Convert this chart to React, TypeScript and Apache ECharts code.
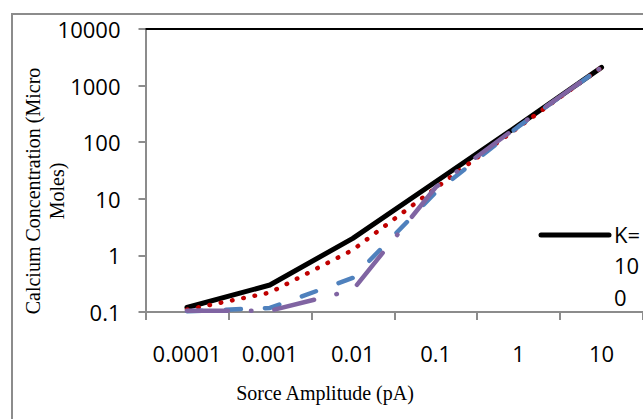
import React, { useEffect, useRef } from "react";
import * as echarts from "echarts";

const categories = ["0.0001", "0.001", "0.01", "0.1", "1", "10"];
const seriesNames = ["K=100", "K=10", "K=1", "K=0.1"];
const k100Values = [0.12, 0.3, 2.0, 20, 200, 2100];
const k10Values = [0.11, 0.22, 1.25, 15.5, 185, 2100];
const k1Values = [0.103, 0.118, 0.4, 13, 190, 2100];
const k01Values = [0.105, 0.105, 0.245, 16, 195, 2100];
const yTicks = [0.1, 1, 10, 100, 1000, 10000];
const xTitle = "Sorce Amplitude (pA)";
const yTitle = "Calcium Concentration (Micro\nMoles)";
const legendText = "K=\n10\n0";

export default function App() {
  const ref = useRef<HTMLDivElement>(null);
  useEffect(() => {
    document.body.style.margin = "0";
    const chart = echarts.init(ref.current!, null, { renderer: "svg" });
    const tickFont = { fontFamily: "Open Sans", fontSize: 22, color: "#000" };
    const gray = "#8c8c8c";
    const mk = (name: string, data: number[], color: string, width: number, type: any) => ({
      name,
      type: "line",
      data,
      xAxisIndex: 0,
      yAxisIndex: 0,
      showSymbol: false,
      symbol: "none",
      clip: false,
      lineStyle: { color, width, type, cap: "round", join: "round" },
    });
    chart.setOption({
      animation: false,
      grid: { left: 145.5, top: 29, width: 506.4, height: 283 },
      xAxis: [
        {
          type: "category",
          data: categories,
          position: "bottom",
          boundaryGap: true,
          axisLine: { show: true, onZero: false, lineStyle: { color: gray, width: 2 } },
          axisTick: { show: true, length: 8, interval: 0, lineStyle: { color: gray, width: 2 } },
          axisLabel: { ...tickFont, margin: 30, interval: 0 },
          splitLine: { show: false },
        },
        {
          type: "category",
          data: categories,
          position: "top",
          boundaryGap: true,
          axisLine: { show: true, onZero: false, lineStyle: { color: "#000", width: 2 } },
          axisTick: { show: false },
          axisLabel: { show: false },
          splitLine: { show: false },
        },
      ],
      yAxis: {
        type: "log",
        logBase: 10,
        min: yTicks[0],
        max: yTicks[yTicks.length - 1],
        axisLine: { show: true, lineStyle: { color: gray, width: 2 } },
        axisTick: { show: true, length: 7, lineStyle: { color: gray, width: 2 } },
        axisLabel: {
          ...tickFont,
          margin: 25,
          formatter: (v: number) => String(Number(v.toPrecision(6))),
        },
        splitLine: { show: false },
      },
      series: [
        mk(seriesNames[0], k100Values, "#000000", 5, "solid"),
        mk(seriesNames[1], k10Values, "#C00000", 4.5, [0.5, 11]),
        mk(seriesNames[2], k1Values, "#4F81BD", 4.5, [15, 24]),
        mk(seriesNames[3], k01Values, "#8064A2", 4.5, [41, 23, 0.5, 23]),
      ],
      graphic: [
        {
          type: "rect",
          z: -10,
          shape: { x: 12, y: 14, width: 800, height: 600 },
          style: { fill: "none", stroke: gray, lineWidth: 2 },
          silent: true,
        },
        {
          type: "text",
          x: 325,
          y: 393,
          style: {
            text: xTitle,
            font: '20px "Liberation Serif"',
            fill: "#000",
            textAlign: "center",
            textVerticalAlign: "middle",
          },
        },
        {
          type: "text",
          x: 45,
          y: 191,
          rotation: Math.PI / 2,
          style: {
            text: yTitle,
            font: '20px "Liberation Serif"',
            fill: "#000",
            textAlign: "center",
            textVerticalAlign: "middle",
            lineHeight: 24,
          },
        },
        {
          type: "line",
          shape: { x1: 541, y1: 235, x2: 609, y2: 235 },
          style: { stroke: "#000", lineWidth: 5, lineCap: "round" },
        },
        {
          type: "text",
          x: 614,
          y: 218,
          style: {
            text: legendText,
            font: '22px "Open Sans"',
            fill: "#000",
            textAlign: "left",
            textVerticalAlign: "top",
            lineHeight: 31.5,
          },
        },
      ],
    });
    return () => chart.dispose();
  }, []);
  return <div ref={ref} style={{ width: 643, height: 419 }} />;
}
